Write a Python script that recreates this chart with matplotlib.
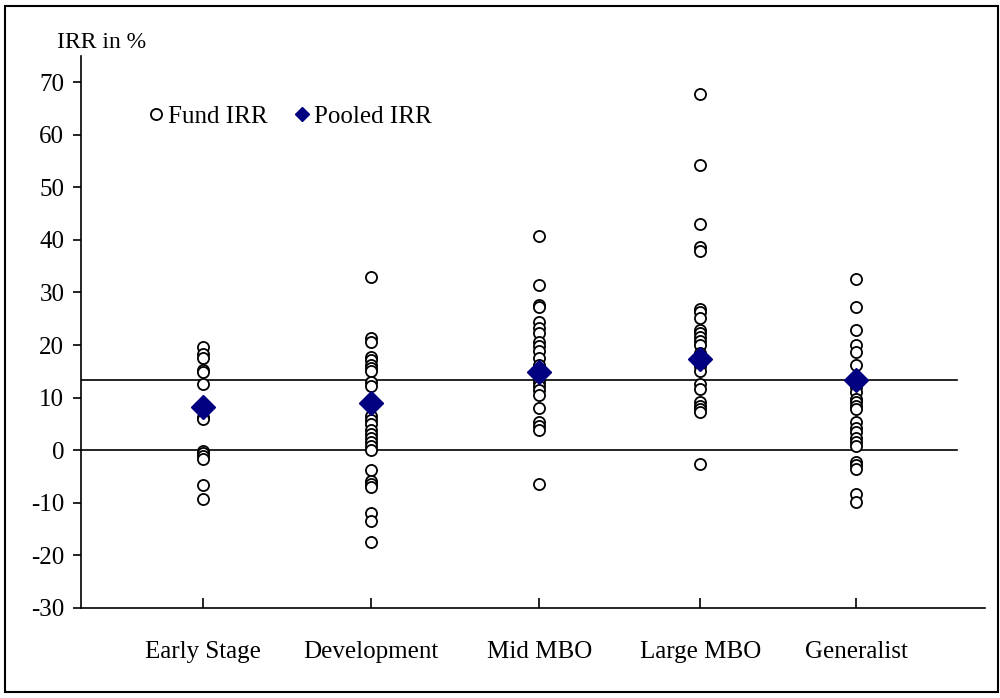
import matplotlib.pyplot as plt
from matplotlib.lines import Line2D
from matplotlib.patches import Rectangle

plt.rcParams['font.family'] = ['Liberation Serif', 'DejaVu Serif']
plt.rcParams['axes.unicode_minus'] = False

categories = ['Early Stage', 'Development', 'Mid MBO', 'Large MBO', 'Generalist']
cat_pos = [0.744, 1.768, 2.793, 3.774, 4.726]

early_stage = [19.7, 18.3, 17.6, 15.3, 14.8, 12.5, 6.4, 6.0, -0.1, -0.6,
               -1.1, -1.7, -6.7, -9.3]
development = [33.0, 21.3, 20.5, 17.8, 17.2, 16.3, 15.6, 15.0, 13.0, 12.2,
               6.5, 5.8, 5.0, 3.8, 3.0, 2.3, 1.6, 0.8, 0.0, -3.8, -5.8,
               -6.5, -7.0, -12.0, -13.5, -17.5]
mid_mbo = [40.7, 31.5, 27.6, 27.2, 24.3, 23.2, 22.2, 20.6, 19.8, 18.8, 17.6,
           16.3, 14.0, 13.0, 12.2, 11.4, 10.5, 8.0, 5.4, 4.6, 3.8, -6.4]
large_mbo = [67.8, 54.2, 43.0, 38.6, 37.8, 26.9, 26.3, 25.2, 22.8, 22.2,
             21.6, 20.8, 20.0, 18.5, 16.0, 15.1, 12.5, 11.6, 9.2, 8.5, 7.8,
             7.3, -2.6]
generalist = [32.5, 27.3, 22.9, 20.0, 18.6, 16.2, 12.0, 11.0, 9.7, 9.1, 8.4,
              7.8, 5.3, 4.3, 3.4, 2.4, 1.5, 0.8, -2.2, -2.9, -3.6, -8.4, -9.8]
fund_irr = [early_stage, development, mid_mbo, large_mbo, generalist]

pooled_irr = [8.3, 8.9, 14.8, 17.4, 13.3]
overall_pooled = 13.4

y_ticks = list(range(-30, 71, 10))

fig = plt.figure(figsize=(10, 6.98), dpi=100)
ax = fig.add_axes([0.081, 0.129, 0.904, 0.791])

# reference lines: overall pooled IRR and zero
for yv in (overall_pooled, 0):
    ax.plot([0, 5.34], [yv, yv], color='black', lw=1.2, zorder=1)

for x, vals in zip(cat_pos, fund_irr):
    ax.plot([x] * len(vals), vals, 'o', mfc='white', mec='black',
            mew=1.3, ms=8, ls='none', zorder=2)

ax.plot(cat_pos, pooled_irr, 'D', color='#000080', ms=12.5, ls='none',
        zorder=3)

ax.set_xlim(0, 5.51)
ax.set_ylim(-30, 75)
ax.set_yticks(y_ticks)
ax.set_yticklabels([str(v) for v in y_ticks])
ax.set_xticks(cat_pos)
ax.set_xticklabels(categories)
ax.tick_params(axis='y', direction='out', length=6, width=1.2, labelsize=18,
               pad=6)
ax.tick_params(axis='x', direction='in', length=7, width=1.2, labelsize=18,
               pad=24)
ax.spines['top'].set_visible(False)
ax.spines['right'].set_visible(False)
ax.spines['left'].set_linewidth(1.2)
ax.spines['bottom'].set_linewidth(1.2)

handles = [
    Line2D([], [], marker='o', mfc='white', mec='black', mew=1.3, ms=8,
           ls='none'),
    Line2D([], [], marker='D', color='#000080', ms=7.5, ls='none'),
]
ax.legend(handles, ['Fund IRR', 'Pooled IRR'], loc='upper left',
          bbox_to_anchor=(0.047, 0.951), ncol=2, frameon=False, fontsize=18,
          handlelength=0.8, handletextpad=0.1, columnspacing=0.95)

fig.text(0.057, 1 - 42 / 698, 'IRR in %', fontsize=17, va='center',
         ha='left')

fig.patches.append(Rectangle((0.005, 0.009), 0.993, 0.983,
                             transform=fig.transFigure, fill=False,
                             lw=1.5, ec='black'))

fig.savefig('out.png', dpi=100)
